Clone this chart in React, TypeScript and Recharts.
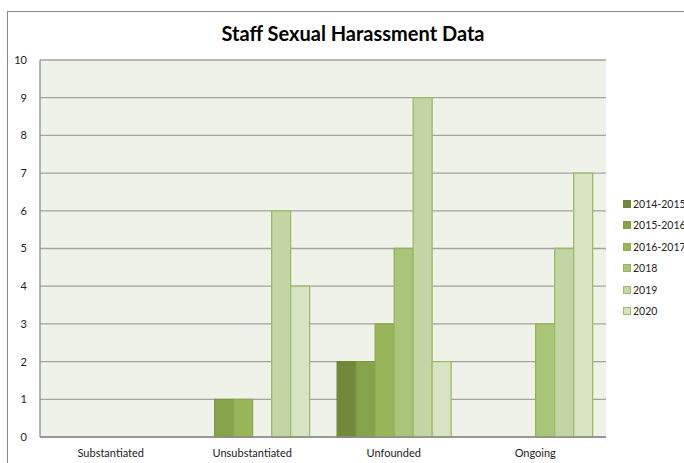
import React from 'react';
import {
  BarChart,
  Bar,
  XAxis,
  YAxis,
  CartesianGrid,
} from 'recharts';

// categories along the x axis
const categories = ['Substantiated', 'Unsubstantiated', 'Unfounded', 'Ongoing'];

// one series per year
const seriesNames = ['2014-2015', '2015-2016', '2016-2017', '2018', '2019', '2020'];
const values2014 = [0, 0, 2, 0];
const values2015 = [0, 1, 2, 0];
const values2016 = [0, 1, 3, 0];
const values2018 = [0, 0, 5, 3];
const values2019 = [0, 6, 9, 5];
const values2020 = [0, 4, 2, 7];

const yTicks = [0, 1, 2, 3, 4, 5, 6, 7, 8, 9, 10];

/** greens, darkest first */
const FILLS = ['#72893B', '#86A24A', '#98B55A', '#AAC57A', '#C3D4A5', '#D8E3C4'];
const STROKES = ['#6E8538', '#7E9A45', '#8DAA50', '#93B35C', '#9DBB62', '#9DBB62'];

const allValues = [values2014, values2015, values2016, values2018, values2019, values2020];

const data = categories.map((name, i) => {
  const row: Record<string, string | number> = { name };
  seriesNames.forEach((s, k) => {
    row[s] = allValues[k][i];
  });
  return row;
});

const FONT = 'Lato, "Open Sans", sans-serif';

export default function App() {
  return (
    <div
      style={{
        position: 'fixed',
        left: 0,
        top: 0,
        width: 684,
        height: 463,
        background: '#fff',
        overflow: 'hidden',
        fontFamily: FONT,
      }}
    >
      {/* outer chart frame */}
      <div
        style={{
          position: 'absolute',
          left: 7,
          top: 11,
          width: 720,
          height: 500,
          border: '1px solid #8a8a8a',
        }}
      />
      <div
        style={{
          position: 'absolute',
          left: 0,
          top: 21,
          width: 706,
          textAlign: 'center',
          fontWeight: 700,
          fontSize: 20,
          lineHeight: '24px',
          color: '#000',
        }}
      >
        Staff Sexual Harassment Data
      </div>

      <div style={{ position: 'absolute', left: 0, top: 0 }}>
        <BarChart
          width={684}
          height={463}
          data={data}
          margin={{ top: 60, right: 78, bottom: 0, left: 0 }}
          barCategoryGap="10%"
          barGap={0}
        >
          <CartesianGrid
            vertical={false}
            stroke="#a3a3a3"
            strokeWidth={1.3}
            fill="#EFF2E9"
            fillOpacity={1}
          />
          <XAxis
            dataKey="name"
            height={26}
            tickLine={false}
            tickSize={0}
            tickMargin={12}
            axisLine={{ stroke: '#8c8c8c', strokeWidth: 1.3 }}
            tick={{ fill: '#222', fontSize: 11, fontFamily: FONT }}
            interval={0}
          />
          <YAxis
            width={40}
            domain={[0, 10]}
            ticks={yTicks}
            interval={0}
            tickLine={false}
            tickSize={0}
            tickMargin={13}
            axisLine={{ stroke: '#8c8c8c', strokeWidth: 1.3 }}
            tick={{ fill: '#222', fontSize: 11, fontFamily: FONT }}
          />
          <YAxis
            yAxisId="r"
            orientation="right"
            width={0}
            domain={[0, 10]}
            tick={false}
            tickLine={false}
            axisLine={{ stroke: '#8c8c8c', strokeWidth: 1.3 }}
          />
          {seriesNames.map((s, k) => (
            <Bar
              key={s}
              dataKey={s}
              fill={FILLS[k]}
              stroke={STROKES[k]}
              strokeWidth={1.3}
              isAnimationActive={false}
            />
          ))}
        </BarChart>
      </div>

      {/* legend */}
      <div style={{ position: 'absolute', left: 623, top: 193 }}>
        {seriesNames.map((s, k) => (
          <div
            key={s}
            style={{
              display: 'flex',
              alignItems: 'center',
              height: 21.5,
              fontSize: 10.5,
              color: '#222',
              whiteSpace: 'nowrap',
            }}
          >
            <span
              style={{
                display: 'inline-block',
                width: 6,
                height: 6,
                background: FILLS[k],
                border: `1px solid ${STROKES[k]}`,
                marginRight: 2,
              }}
            />
            {s}
          </div>
        ))}
      </div>
    </div>
  );
}
